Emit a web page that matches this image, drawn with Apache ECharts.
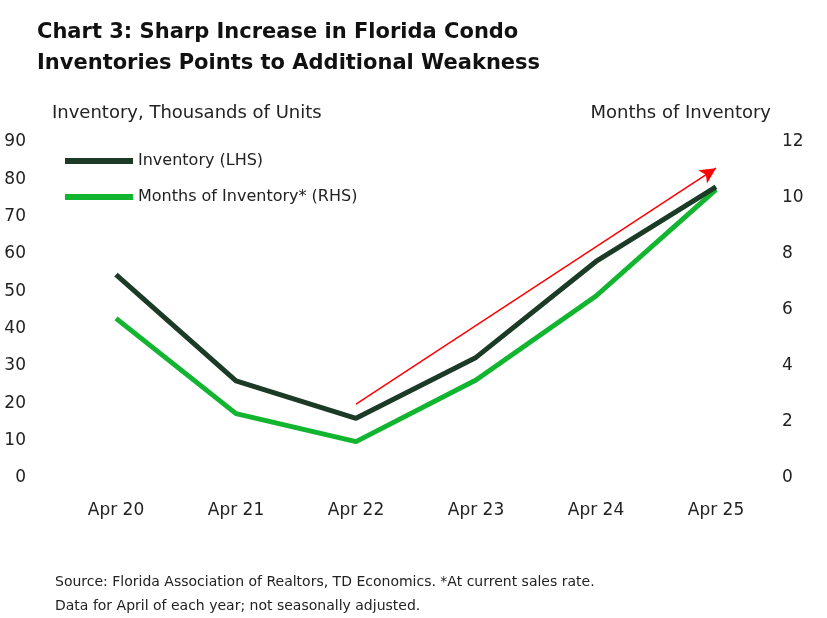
<!DOCTYPE html><html><head><meta charset="utf-8">
<script src="https://cdn.jsdelivr.net/npm/echarts@6/dist/echarts.min.js"></script>
<style>body{margin:0}#c{width:827px;height:618px}</style></head><body><div id="c"></div>
<script>
const categories=['Apr 20','Apr 21','Apr 22','Apr 23','Apr 24','Apr 25'];
const inventory=[54.5,26,16,32.3,58,78];
const monthsInv=[5.7,2.3,1.3,3.5,6.5,10.3];
const arrowFrom=['Apr 22',19.8], arrowTo=['Apr 25',83];
const F='DejaVu Sans';
const c=echarts.init(document.getElementById('c'));
c.setOption({
 animation:false,
 textStyle:{fontFamily:F},
 title:{text:'Chart 3: Sharp Increase in Florida Condo\nInventories Points to Additional Weakness',left:32,top:12,
  textStyle:{fontSize:21,fontWeight:'bold',color:'#111',lineHeight:31,fontFamily:F}},
 graphic:[
  {type:'text',left:52,top:104,style:{text:'Inventory, Thousands of Units',fontSize:18,fill:'#222',fontFamily:F}},
  {type:'text',right:56,top:104,style:{text:'Months of Inventory',fontSize:18,fill:'#222',fontFamily:F}},
  {type:'text',left:55,top:570,style:{text:'Source: Florida Association of Realtors, TD Economics. *At current sales rate.\nData for April of each year; not seasonally adjusted.',fontSize:14,lineHeight:24,fill:'#222',fontFamily:F}}
 ],
 legend:{left:60,top:148,orient:'vertical',itemGap:20,itemWidth:68,itemHeight:6,icon:'rect',
  textStyle:{fontSize:16,color:'#222',fontFamily:F}},
 grid:{left:56,right:51,top:142,bottom:140},
 xAxis:{type:'category',data:categories,axisLine:{show:false},axisTick:{show:false},
  axisLabel:{fontSize:17,color:'#222',margin:24}},
 yAxis:[{type:'value',min:0,max:90,interval:10,splitLine:{show:false},axisLabel:{fontSize:17,color:'#222',margin:30}},
  {type:'value',min:0,max:12,interval:2,splitLine:{show:false},axisLabel:{fontSize:17,color:'#222',margin:6}}],
 series:[
  {name:'Inventory (LHS)',type:'line',data:inventory,yAxisIndex:0,symbol:'none',lineStyle:{width:5,color:'#1c3b26'},itemStyle:{color:'#1c3b26'},z:3,
   markLine:{silent:true,symbol:['none','arrow'],symbolSize:[12,16],label:{show:false},lineStyle:{color:'#ff0000',width:1.5,type:'solid'},
    data:[[{coord:arrowFrom},{coord:arrowTo}]]}},
  {name:'Months of Inventory* (RHS)',type:'line',data:monthsInv,yAxisIndex:1,symbol:'none',lineStyle:{width:5,color:'#11b52f'},itemStyle:{color:'#11b52f'},z:2}
 ]
});
</script></body></html>
